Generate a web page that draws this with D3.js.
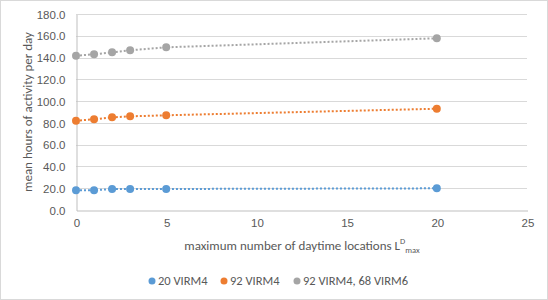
<!DOCTYPE html>
<html>
<head>
<meta charset="utf-8">
<script src="https://cdn.jsdelivr.net/npm/d3@7"></script>
<style>
  body { margin: 0; background: #fff; }
  svg { font-family: Carlito, Calibri, "Open Sans", sans-serif; }
</style>
</head>
<body>
<svg id="chart"></svg>
<script>
// values
let xValues = [0, 1, 2, 3, 5, 20];
let seriesNames = ["20 VIRM4", "92 VIRM4", "92 VIRM4, 68 VIRM6"];
let blueValues = [18.1, 18.1, 19.3, 19.3, 19.3, 19.9];
let orangeValues = [82.0, 83.3, 85.1, 86.0, 87.0, 93.0];
let greyValues = [141.7, 143.0, 144.8, 146.7, 149.4, 157.7];
let colors = ["#5B9BD5", "#ED7D31", "#A5A5A5"];
let yTicks = [0, 20, 40, 60, 80, 100, 120, 140, 160, 180];
let xTicks = [0, 5, 10, 15, 20, 25];

let width = 548, height = 300;
let margin = { top: 14, right: 21, bottom: 90, left: 76 };

let svg = d3.select("#chart")
    .attr("width", width)
    .attr("height", height);

svg.append("rect")
    .attr("x", 0.5).attr("y", 0.5)
    .attr("width", width - 1).attr("height", height - 1)
    .attr("fill", "#fff")
    .attr("stroke", "#D9D9D9");

let xScale = d3.scaleLinear()
    .domain([0, 25])
    .range([margin.left, width - margin.right]);

let yScale = d3.scaleLinear()
    .domain([0, 180])
    .range([height - margin.bottom, margin.top]);

// gridlines
svg.append("g")
    .selectAll("line")
    .data(yTicks.filter(d => d > 0))
    .join("line")
    .attr("x1", xScale(0))
    .attr("x2", xScale(25))
    .attr("y1", d => Math.round(yScale(d)) + 0.5)
    .attr("y2", d => Math.round(yScale(d)) + 0.5)
    .attr("stroke", "#D9D9D9");

// axes
let yAxis = g => g
    .attr("transform", `translate(${xScale(0) + 0.5},0.5)`)
    .call(d3.axisLeft(yScale).tickValues(yTicks).tickFormat(d3.format(".1f")).tickSize(0).tickPadding(11))
    .call(g => g.select(".domain").attr("stroke", "#BFBFBF"));

let xAxis = g => g
    .attr("transform", `translate(0.5,${Math.round(yScale(0)) + 0.5})`)
    .call(d3.axisBottom(xScale).tickValues(xTicks).tickSize(0).tickPadding(8))
    .call(g => g.select(".domain").attr("stroke", "#BFBFBF"));

svg.append("g").call(yAxis);
svg.append("g").call(xAxis);

svg.selectAll(".tick text")
    .attr("fill", "#595959")
    .attr("font-size", 11.5);

// series
let allSeries = [blueValues, orangeValues, greyValues];

let line = d3.line()
    .x((d, i) => xScale(xValues[i]))
    .y(d => yScale(d));

allSeries.forEach((values, k) => {
    let g = svg.append("g");
    g.append("path")
        .attr("d", line(values))
        .attr("fill", "none")
        .attr("stroke", colors[k])
        .attr("stroke-width", 2)
        .attr("stroke-dasharray", "2,2");
    g.selectAll("circle")
        .data(values)
        .join("circle")
        .attr("cx", (d, i) => xScale(xValues[i]))
        .attr("cy", d => yScale(d))
        .attr("r", 4)
        .attr("fill", colors[k]);
});

// axis titles
svg.append("text")
    .attr("transform", `translate(32,${(yScale(0) + yScale(180)) / 2}) rotate(-90)`)
    .attr("text-anchor", "middle")
    .attr("fill", "#595959")
    .attr("font-size", 13)
    .text("mean hours of activity per day");

let xTitle = svg.append("text")
    .attr("x", 302)
    .attr("y", 250)
    .attr("text-anchor", "middle")
    .attr("fill", "#595959")
    .attr("font-size", 13);
xTitle.append("tspan").text("maximum number of daytime locations L");
xTitle.append("tspan").attr("dy", -6).attr("font-size", 8.5).text("D");
xTitle.append("tspan").attr("dy", 9).attr("font-size", 8.5).text("max");

// legend
let legendX = [152, 224, 297];
let legend = svg.append("g")
    .selectAll("g")
    .data(seriesNames)
    .join("g")
    .attr("transform", (d, i) => `translate(${legendX[i]},281)`);
legend.append("circle")
    .attr("r", 3.5)
    .attr("fill", (d, i) => colors[i]);
legend.append("text")
    .attr("x", 6)
    .attr("dy", "0.35em")
    .attr("fill", "#595959")
    .attr("font-size", 12.5)
    .text(d => d);
</script>
</body>
</html>
